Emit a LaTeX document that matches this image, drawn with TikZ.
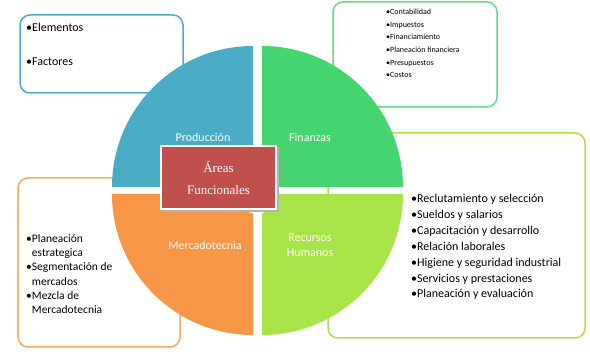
\documentclass[tikz,border=0pt]{standalone}
\usepackage{fontspec}
\setmainfont{Carlito}
\newfontfamily\areafont{Liberation Serif}
\definecolor{prodblue}{RGB}{75,172,198}
\definecolor{fingreen}{RGB}{70,212,112}
\definecolor{rhlime}{RGB}{168,228,72}
\definecolor{mktorange}{RGB}{247,150,70}
\definecolor{areared}{RGB}{192,80,77}
\tikzset{
  infobox/.style={line width=1.5pt, rounded corners=10pt},
  quadlabel/.style={text=white, font=\fontsize{12}{15}\selectfont, align=center, inner sep=0pt},
  itemlist/.style={anchor=north west, align=left, inner sep=0pt},
}
\begin{document}
\begin{tikzpicture}[x=1pt,y=1pt]
  \useasboundingbox (0,0) rectangle (590,354);
  % side boxes
  \draw[infobox, prodblue] (20,261) rectangle (183,339);
  \draw[infobox, fingreen!85] (333,247) rectangle (497,352);
  \draw[infobox, rhlime] (328,16) rectangle (585,221);
  \draw[infobox, mktorange!85] (18,7) rectangle (180,176);
  % the four quarters
  \fill[prodblue] (253,167) -- (112,167) arc[start angle=180, end angle=90, radius=141] -- cycle;
  \fill[fingreen] (262,167) -- (262,308) arc[start angle=90, end angle=0, radius=141] -- cycle;
  \fill[mktorange] (253,160) -- (112,160) arc[start angle=180, end angle=270, radius=141] -- cycle;
  \fill[rhlime] (262,160) -- (403,160) arc[start angle=0, end angle=-90, radius=141] -- cycle;
  \fill[white] (257,157) circle(17);
  % centre box
  \fill[gray!60] (162,142) rectangle (279,207);
  \node[draw=white, line width=2pt, fill=areared, minimum width=115pt, minimum height=63pt,
        text=white, align=center, font=\areafont\fontsize{13}{22}\selectfont] (areas) at (218.5,176.5)
        {Áreas\\Funcionales};
  % quarter labels
  \node[quadlabel] (prod) at (203,217) {Producción};
  \node[quadlabel] (fin) at (310,217) {Finanzas};
  \node[quadlabel] (mkt) at (205,109) {Mercadotecnia};
  \node[quadlabel] (rh) at (310,109) {Recursos\\Humanos};
  % lists
  \node[itemlist, font=\fontsize{12}{34}\selectfont] (prodlist) at (26,331) {•Elementos\\•Factores};
  \node[itemlist, font=\fontsize{8}{12.6}\selectfont] (finlist) at (386,345)
    {•Contabilidad\\•Impuestos\\•Financiamiento\\•Planeación financiera\\•Presupuestos\\•Costos};
  \node[itemlist, font=\fontsize{12}{15.9}\selectfont] (rhlist) at (411,160)
    {•Reclutamiento y selección\\•Sueldos y salarios\\•Capacitación y desarrollo\\•Relación laborales\\
     •Higiene y seguridad industrial\\•Servicios y prestaciones\\•Planeación y evaluación};
  \node[itemlist, font=\fontsize{11.5}{14.3}\selectfont] (mktlist) at (26,120)
    {•Planeación\\\hphantom{•}estrategica\\•Segmentación de\\\hphantom{•}mercados\\•Mezcla de\\\hphantom{•}Mercadotecnia};
\end{tikzpicture}
\end{document}
